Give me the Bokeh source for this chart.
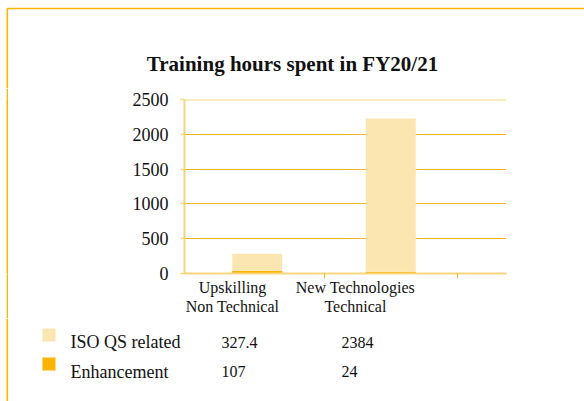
from bokeh.plotting import figure
from bokeh.models import Range1d, FixedTicker, Span, Spacer
from bokeh.layouts import column, row
from bokeh.core.properties import value
from bokeh.embed import file_html
from bokeh.resources import INLINE

# ---- data ----
categories = ["Upskilling\nNon Technical", "New Technologies\nTechnical"]
cat_pos = [0.5, 1.5]
series_names = ["ISO QS related", "Enhancement"]
iso_bar = [245, 2202]     # drawn segment heights
enh_bar = [39, 25]
iso_table = ["327.4", "2384"]
enh_table = ["107", "24"]
y_ticks = [0, 500, 1000, 1500, 2000, 2500]
title_text = "Training hours spent in FY20/21"

C_ISO = "#FBE6B2"
C_ENH = "#F9B300"
C_GRID = "#F1B42B"
C_AXIS = "#F8D67C"
C_BORDER = "#FFB400"
TXT = "#111111"
SERIF = "Liberation Serif"

W = 584
H1, H2 = 88, 230
H3 = 401 - H1 - H2
BORDER_X = 6.8


def plain(width, height, y0, y1):
    f = figure(width=width, height=height, output_backend="svg", toolbar_location=None,
               x_range=Range1d(0, width), y_range=Range1d(y1, y0),
               x_axis_location=None, y_axis_location=None,
               min_border=0, min_border_left=0, min_border_right=0,
               min_border_top=0, min_border_bottom=0, margin=0)
    f.outline_line_color = None
    f.grid.visible = False
    f.background_fill_color = "white"
    f.border_fill_color = "white"
    return f


# ---- header (title + border) ----
head = plain(W, H1, 0, H1)
head.segment(x0=[BORDER_X, BORDER_X], y0=[8, 8], x1=[W, BORDER_X], y1=[8, H1],
             line_color=C_BORDER, line_width=1.6)
head.text(x=[292], y=[63], text=[title_text], text_font=value(SERIF),
          text_font_style="bold", text_font_size="21px", text_align="center",
          text_baseline="alphabetic", text_color=TXT)

# ---- left border beside chart: a 2px-wide filled strip ----
gap = Spacer(width=6, height=H2, margin=0)
strip = figure(width=2, height=H2, output_backend="svg", toolbar_location=None,
               x_axis_location=None, y_axis_location=None,
               min_border=0, min_border_left=0, min_border_right=0,
               min_border_top=0, min_border_bottom=0, margin=0)
strip.outline_line_color = None
strip.grid.visible = False
strip.background_fill_color = C_BORDER
strip.border_fill_color = C_BORDER

# ---- chart ----
p = figure(width=W - 8, height=H2, output_backend="svg", toolbar_location=None,
           x_range=Range1d(-0.045, 2.367), y_range=Range1d(0, 2500),
           min_border_left=176, min_border_right=78, min_border_top=11,
           min_border_bottom=H1 + H2 - 273, margin=0)
p.outline_line_color = None
p.background_fill_color = "white"
p.border_fill_color = "white"

iso_top = [a + b for a, b in zip(enh_bar, iso_bar)]
p.vbar(x=cat_pos, bottom=[0, 0], top=enh_bar, width=0.375, fill_color=C_ENH, line_color=None)
p.vbar(x=cat_pos, bottom=enh_bar, top=iso_top, width=0.375, fill_color=C_ISO, line_color=None)

p.xgrid.visible = False
p.ygrid.ticker = FixedTicker(ticks=y_ticks[1:-1])
p.ygrid.grid_line_color = C_GRID
p.ygrid.grid_line_width = 1.1
p.add_layout(Span(location=y_ticks[-1], dimension="width", line_color=C_AXIS, line_width=2))

ya = p.yaxis[0]
ya.ticker = FixedTicker(ticks=y_ticks)
ya.axis_line_color = C_AXIS
ya.axis_line_width = 2
ya.major_tick_line_color = C_AXIS
ya.major_tick_line_width = 1.5
ya.major_tick_out = 4
ya.major_tick_in = 0
ya.minor_tick_line_color = None
ya.major_label_text_font = SERIF
ya.major_label_text_font_size = "18px"
ya.major_label_text_color = TXT
ya.major_label_standoff = 12

# x axis: category names as labels (offset left of bars as in the source),
# category boundaries as minor ticks
label_pos = [p_ - 0.185 - 0.08 * i for i, p_ in enumerate(cat_pos)]
xa = p.xaxis[0]
xa.ticker = FixedTicker(ticks=label_pos, minor_ticks=[1, 2])
xa.axis_line_color = C_AXIS
xa.axis_line_width = 2.2
xa.major_tick_line_color = None
xa.major_tick_out = 0
xa.major_tick_in = 0
xa.minor_tick_line_color = C_GRID
xa.minor_tick_out = 5
xa.minor_tick_in = 0
xa.major_label_overrides = {lp: c for lp, c in zip(label_pos, categories)}
xa.major_label_text_font = SERIF
xa.major_label_text_font_size = "16px"
xa.major_label_text_color = TXT
xa.major_label_text_line_height = 1.12
xa.major_label_standoff = 0

# ---- table (legend rows) ----
Y0 = H1 + H2
tab = plain(W, H3, Y0, Y0 + H3)
tab.segment(x0=[BORDER_X], y0=[Y0], x1=[BORDER_X], y1=[Y0 + H3],
            line_color=C_BORDER, line_width=1.6)

row_base = [341.7, 371]
sq_top = [328, 357]
tab.quad(left=[42, 42], right=[55, 55], top=sq_top, bottom=[t + 13 for t in sq_top],
         fill_color=[C_ISO, C_ENH], line_color=None)
tab.text(x=[70, 70], y=row_base, text=series_names, text_font=value(SERIF),
         text_font_size="18px", text_align="left", text_baseline="alphabetic", text_color=TXT)
col_x = [221, 341]
for cx, vals in zip(col_x, zip(iso_table, enh_table)):
    tab.text(x=[cx, cx], y=row_base, text=list(vals), text_font=value(SERIF),
             text_font_size="16px", text_align="left", text_baseline="alphabetic", text_color=TXT)

layout = column(head, row(gap, strip, p, margin=0), tab)
open("out.html", "w").write(file_html(layout, INLINE))
